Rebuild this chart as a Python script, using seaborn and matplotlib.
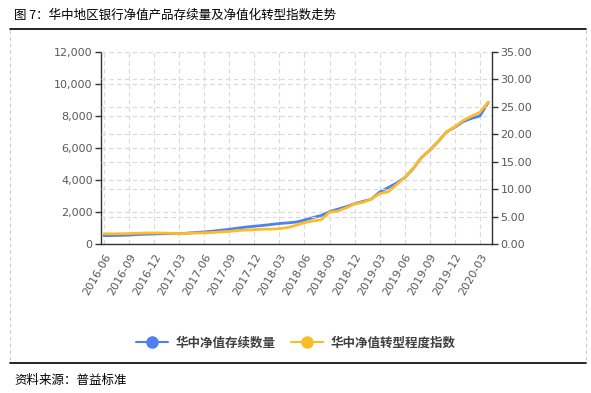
import matplotlib
matplotlib.use("Agg")
import matplotlib.pyplot as plt
import seaborn as sns
import pandas as pd
import numpy as np
from matplotlib.lines import Line2D

months = pd.period_range("2016-06", "2020-04", freq="M").strftime("%Y-%m").tolist()
count_values = [520, 530, 540, 560, 590, 610, 630, 640, 650, 640, 680, 720,
                760, 800, 860, 920, 990, 1060, 1110, 1160, 1220, 1280, 1320, 1370,
                1500, 1650, 1780, 2020, 2180, 2330, 2520, 2660, 2800, 3250, 3520, 3800,
                4150, 4700, 5400, 5850, 6400, 7000, 7300, 7650, 7850, 8000, 8850]
index_values = [1.85, 1.85, 1.88, 1.90, 1.95, 2.00, 2.02, 2.00, 1.95, 1.88, 1.95, 2.00,
                2.05, 2.10, 2.20, 2.30, 2.45, 2.55, 2.60, 2.70, 2.72, 2.80, 3.00, 3.40,
                3.90, 4.20, 4.40, 5.80, 6.00, 6.60, 7.30, 7.60, 8.20, 9.20, 9.50, 10.80,
                12.10, 13.80, 15.70, 17.10, 18.70, 20.40, 21.40, 22.50, 23.30, 24.00, 25.90]
series_names = ["华中净值存续数量", "华中净值转型程度指数"]
title_text = "图 7：华中地区银行净值产品存续量及净值化转型指数走势"
source_text = "资料来源：普益标准"
tick_labels = months[::3]

sns.set_theme(style="white")
plt.rcParams['font.family'] = ['Noto Sans CJK SC', 'DejaVu Sans']

blue = "#4d80f2"
yellow = "#fcbc26"
grey_txt = "#595959"

df = pd.DataFrame({"pos": np.arange(len(months)), "count": count_values, "index": index_values})

fig = plt.figure(figsize=(5.91, 3.93), dpi=100)
ax = fig.add_axes([101/591, 1-244/393, (492-101)/591, (244-52)/393])
ax2 = ax.twinx()

sns.lineplot(data=df, x="pos", y="count", ax=ax, color=blue, linewidth=2, legend=False)
sns.lineplot(data=df, x="pos", y="index", ax=ax2, color=yellow, linewidth=2, legend=False)

ax.set_xlim(-0.36, len(months) - 1 + 0.45)
ax.set_ylim(0, 12000)
ax2.set_ylim(0, 35)
ax.set_yticks(np.arange(0, 12001, 2000))
ax.set_yticklabels([f"{v:,}" for v in range(0, 12001, 2000)])
ax2.set_yticks(np.arange(0, 35.1, 5))
ax2.set_yticklabels([f"{v:.2f}" for v in np.arange(0, 35.1, 5)])
ax.set_xticks(np.arange(0, len(months), 3))
ax.set_xticklabels(tick_labels, rotation=60, ha="right", rotation_mode="anchor")

for a in (ax, ax2):
    a.set_xlabel("")
    a.set_ylabel("")
    a.tick_params(axis="both", labelsize=8, labelcolor=grey_txt, colors="#333333",
                  length=4, width=1, direction="out")
    for lab in a.get_xticklabels() + a.get_yticklabels():
        lab.set_fontfamily("DejaVu Sans")
        lab.set_color(grey_txt)
    for s in a.spines.values():
        s.set_visible(False)

ax.tick_params(axis="x", pad=2, labelcolor=grey_txt)
ax.tick_params(axis="y", left=True, pad=2)
ax2.tick_params(axis="y", right=True, pad=2)
ax.spines["left"].set_visible(True)
ax.spines["bottom"].set_visible(True)
ax2.spines["right"].set_visible(True)
for s in (ax.spines["left"], ax.spines["bottom"], ax2.spines["right"]):
    s.set_color("#333333")
    s.set_linewidth(1)

grid_kw = dict(color="#d9d9d9", linestyle=(0, (4, 3)), linewidth=0.8)
ax.yaxis.grid(True, **grid_kw)
ax.xaxis.grid(True, **grid_kw)
ax2.yaxis.grid(True, **grid_kw)
ax.set_axisbelow(True)
ax2.set_axisbelow(True)
ax2.patch.set_visible(False)

# legend
handles = [Line2D([0], [0], color=blue, lw=1.5, marker="o", markersize=8, alpha=1,
                  markerfacecolor=blue, markeredgecolor=blue),
           Line2D([0], [0], color=yellow, lw=1.5, marker="o", markersize=8,
                  markerfacecolor=yellow, markeredgecolor=yellow)]
for h, c in zip(handles, (blue, yellow)):
    h.set_color(c)
leg = fig.legend(handles, series_names, loc="center", bbox_to_anchor=(0.5, 1-343/393),
                 ncol=2, frameon=False, fontsize=9, handlelength=2.6, columnspacing=1.2,
                 handletextpad=0.6, prop={"family": ["Noto Sans CJK SC"], "weight": "bold", "size": 9})
for t in leg.get_texts():
    t.set_color("#404040")

# frame / title
fig.text(14/591, 1-15/393, title_text, fontsize=9, va="center", ha="left", color="#000000")
fig.text(14/591, 1-380/393, source_text, fontsize=9, va="center", ha="left", color="#000000")
fig.add_artist(Line2D([10/591, 586/591], [1-29/393, 1-29/393], color="black", lw=1.2))
fig.add_artist(Line2D([10/591, 586/591], [1-363/393, 1-363/393], color="black", lw=1.2))
fig.add_artist(Line2D([10/591, 10/591], [1-30/393, 1-362/393], color="#c8c8c8", lw=0.8, linestyle=(0, (3, 3))))
fig.add_artist(Line2D([586/591, 586/591], [1-30/393, 1-362/393], color="#c8c8c8", lw=0.8, linestyle=(0, (3, 3))))

fig.savefig("out.png", dpi=100)
